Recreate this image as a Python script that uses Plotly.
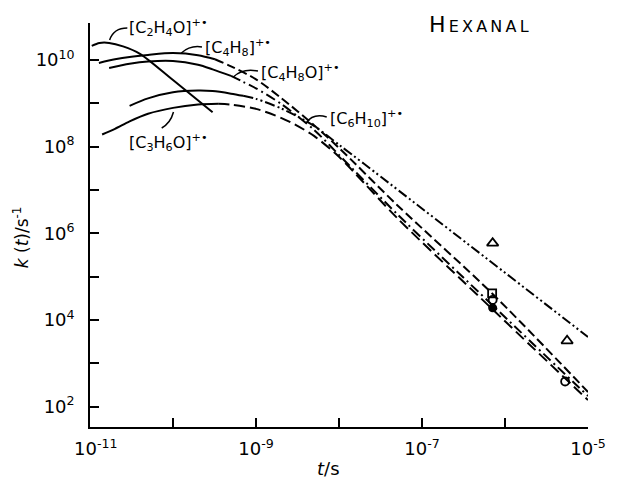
import plotly.graph_objects as go

# ---------------- data ----------------
# [C2H4O]+.  (solid)
c2h4o_t = [1.05e-11, 1.3e-11, 1.7e-11, 2.5e-11, 4e-11, 1e-10, 3e-10]
c2h4o_k = [2.1e10, 2.45e10, 2.46e10, 2.05e10, 1.38e10, 3.42e9, 6.2e8]

# [C4H8]+.  (solid, then dashed)
c4h8_solid_t = [1.28e-11, 2e-11, 3e-11, 5e-11, 1e-10, 2e-10, 3.2e-10]
c4h8_solid_k = [8.5e9, 1.03e10, 1.17e10, 1.30e10, 1.43e10, 1.28e10, 1.03e10]
c4h8_tail_t = [3.2e-10, 5e-10, 1e-9, 2e-9, 5e-9, 1e-8, 5e-8, 7e-7, 1e-5]
c4h8_tail_k = [1.03e10, 7.1e9, 3.55e9, 1.33e9, 3.11e8, 9.3e7, 4.5e6, 4.08e4, 2.18e2]

# [C4H8O]+.  (solid, then dash-dot)
c4h8o_solid_t = [1.7e-11, 3e-11, 5e-11, 1e-10, 2e-10, 3e-10, 5e-10]
c4h8o_solid_k = [6.5e9, 8.1e9, 9.15e9, 9.4e9, 7.67e9, 6.03e9, 4.27e9]
c4h8o_tail_t = [5e-10, 7e-10, 1e-9, 2e-9, 5e-9, 1e-8, 5e-8, 7e-7, 1e-5]
c4h8o_tail_k = [4.27e9, 3.1e9, 2.2e9, 9.7e8, 2.43e8, 6.4e7, 2.79e6, 2.22e4, 1.76e2]

# [C6H10]+.  (solid, then dash-dot-dot)
c6h10_solid_t = [3e-11, 5e-11, 1e-10, 2e-10, 3e-10, 5e-10, 7e-10]
c6h10_solid_k = [8.7e8, 1.29e9, 1.78e9, 1.95e9, 1.9e9, 1.66e9, 1.48e9]
c6h10_tail_t = [7e-10, 1e-9, 2e-9, 3e-9, 5e-9, 1e-8, 2e-8, 1e-5]
c6h10_tail_k = [1.48e9, 1.26e9, 7.6e8, 5.2e8, 3.0e8, 1.1e8, 4.0e7, 4.05e3]

# [C3H6O]+.  (solid, then long dashes)
c3h6o_solid_t = [1.4e-11, 2e-11, 3e-11, 5e-11, 1e-10, 2e-10, 3.5e-10]
c3h6o_solid_k = [1.9e8, 2.56e8, 3.8e8, 5.7e8, 7.8e8, 9.3e8, 9.7e8]
c3h6o_tail_t = [3.5e-10, 5e-10, 1e-9, 2e-9, 3e-9, 5e-9, 1e-8, 2e-8, 5e-8, 7e-7, 1e-5]
c3h6o_tail_k = [9.7e8, 9.25e8, 7.4e8, 4.6e8, 3.16e8, 1.76e8, 5.8e7, 1.45e7, 2.26e6, 1.79e4, 1.42e2]

# experimental points
tri_t = [7.1e-7, 5.6e-6]
tri_k = [5.9e5, 3.3e3]
square_t = [7.0e-7]
square_k = [4.1e4]
open_circle_t = [7.1e-7, 5.3e-6]
open_circle_k = [2.9e4, 3.8e2]
filled_circle_t = [7.1e-7]
filled_circle_k = [1.9e4]

# ticks
x_tickvals = [1e-11, 1e-10, 1e-9, 1e-8, 1e-7, 1e-6, 1e-5]
x_ticktext = ["\u00a0\u00a010<sup>-11</sup>", "", "10<sup>-9</sup>", "", "10<sup>-7</sup>", "", "10<sup>-5</sup>"]
y_tickvals = [1e2, 1e3, 1e4, 1e5, 1e6, 1e7, 1e8, 1e9, 1e10]
y_ticktext = ["10<sup>2</sup>", "", "10<sup>4</sup>", "", "10<sup>6</sup>", "", "10<sup>8</sup>", "", "10<sup>10</sup>"]

# ---------------- figure ----------------
W, H = 618, 487
PL, PR, PT, PB = 90, 597, 23, 427     # plot box in page pixels
L, T, R, B = PL, PT, W - PR, H - PB
PW, PH = PR - PL, PB - PT
FONT = "DejaVu Sans"


def px(xp):
    return (xp - PL) / PW


def py(yp):
    return (PB - yp) / PH


fig = go.Figure()
LW = 2.0
DASH = "9px,4px"
LONGDASH = "11px,5px"
DASHDOT = "10px,4px,2px,4px"
DASHDOTDOT = "10px,3px,2px,3px,2px,3px"

curves = [
    (c2h4o_t, c2h4o_k, "solid"),
    (c4h8_solid_t, c4h8_solid_k, "solid"),
    (c4h8_tail_t, c4h8_tail_k, DASH),
    (c4h8o_solid_t, c4h8o_solid_k, "solid"),
    (c4h8o_tail_t, c4h8o_tail_k, DASHDOT),
    (c6h10_solid_t, c6h10_solid_k, "solid"),
    (c6h10_tail_t, c6h10_tail_k, DASHDOTDOT),
    (c3h6o_solid_t, c3h6o_solid_k, "solid"),
    (c3h6o_tail_t, c3h6o_tail_k, LONGDASH),
]
for t, k, d in curves:
    fig.add_trace(go.Scatter(x=t, y=k, mode="lines",
                             line=dict(color="black", width=LW, dash=d,
                                       shape="spline", smoothing=0.8),
                             showlegend=False, hoverinfo="skip"))

mk_line = dict(color="black", width=1.8)
fig.add_trace(go.Scatter(x=tri_t, y=tri_k, mode="markers",
                         marker=dict(symbol="triangle-up-open", size=10, line=mk_line, color="black"),
                         showlegend=False))
fig.add_trace(go.Scatter(x=square_t, y=square_k, mode="markers",
                         marker=dict(symbol="square-open", size=8, line=mk_line, color="black"),
                         showlegend=False))
fig.add_trace(go.Scatter(x=open_circle_t, y=open_circle_k, mode="markers",
                         marker=dict(symbol="circle-open", size=8, line=mk_line, color="black"),
                         showlegend=False))
fig.add_trace(go.Scatter(x=filled_circle_t, y=filled_circle_k, mode="markers",
                         marker=dict(symbol="circle", size=9, color="black"),
                         showlegend=False))

axis_common = dict(type="log", showline=True, linecolor="black", linewidth=1.6,
                   ticks="inside", ticklen=9, tickwidth=1.6, tickcolor="black",
                   showgrid=False, zeroline=False, mirror=False,
                   tickfont=dict(family=FONT, size=18, color="black"))
fig.update_xaxes(range=[-11, -5], tickvals=x_tickvals, ticktext=x_ticktext,
                 ticklabelstandoff=5, **axis_common)
fig.update_yaxes(range=[1.53, 10.85], tickvals=y_tickvals, ticktext=y_ticktext,
                 ticklabelstandoff=10, **axis_common)

# labels
lab_font = dict(family=FONT, size=16, color="black")
labels = [
    ("[C<sub>2</sub>H<sub>4</sub>O]<sup>+•</sup>", 128, 27),
    ("[C<sub>4</sub>H<sub>8</sub>]<sup>+•</sup>", 205, 47),
    ("[C<sub>4</sub>H<sub>8</sub>O]<sup>+•</sup>", 262, 72),
    ("[C<sub>6</sub>H<sub>10</sub>]<sup>+•</sup>", 332, 118),
    ("[C<sub>3</sub>H<sub>6</sub>O]<sup>+•</sup>", 128, 142),
]
for text, xp, yp in labels:
    fig.add_annotation(text=text, x=px(xp), y=py(yp), xref="paper", yref="paper",
                       xanchor="left", yanchor="middle", showarrow=False, font=lab_font)

leaders = [
    ((128, 28), (114, 28), (110, 40)),
    ((204, 47), (192, 45), (183, 53)),
    ((261, 71), (245, 68), (236, 77)),
    ((331, 117), (317, 113), (310, 123)),
    ((163, 128), (172, 123), (175, 112)),
]
for (x0, y0), (cx, cy), (x1, y1) in leaders:
    fig.add_shape(type="path", xref="paper", yref="paper",
                  path=f"M {px(x0)},{py(y0)} Q {px(cx)},{py(cy)} {px(x1)},{py(y1)}",
                  line=dict(color="black", width=1.5))

fig.add_annotation(text="H<span style='font-size:16px'>\u2009E\u2009X\u2009A\u2009N\u2009A\u2009L</span>",
                   x=px(486), y=py(24), xref="paper", yref="paper", showarrow=False,
                   xanchor="center", yanchor="middle",
                   font=dict(family=FONT, size=22, color="black"))

fig.add_annotation(text="<i>k</i> (<i>t</i>)/s<sup>-1</sup>", x=px(20), y=py(237),
                   xref="paper", yref="paper", showarrow=False, textangle=-90,
                   xanchor="center", yanchor="middle",
                   font=dict(family=FONT, size=17, color="black"))
fig.add_annotation(text="<i>t</i>/s", x=px(333), y=py(468),
                   xref="paper", yref="paper", showarrow=False,
                   xanchor="center", yanchor="middle",
                   font=dict(family=FONT, size=18, color="black"))

fig.update_layout(width=W, height=H, margin=dict(l=L, r=R, t=T, b=B),
                  paper_bgcolor="white", plot_bgcolor="white")

fig.write_html("out.html", config={"displayModeBar": False},
               post_script="document.body.style.margin='0px';document.body.style.overflow='hidden';")
